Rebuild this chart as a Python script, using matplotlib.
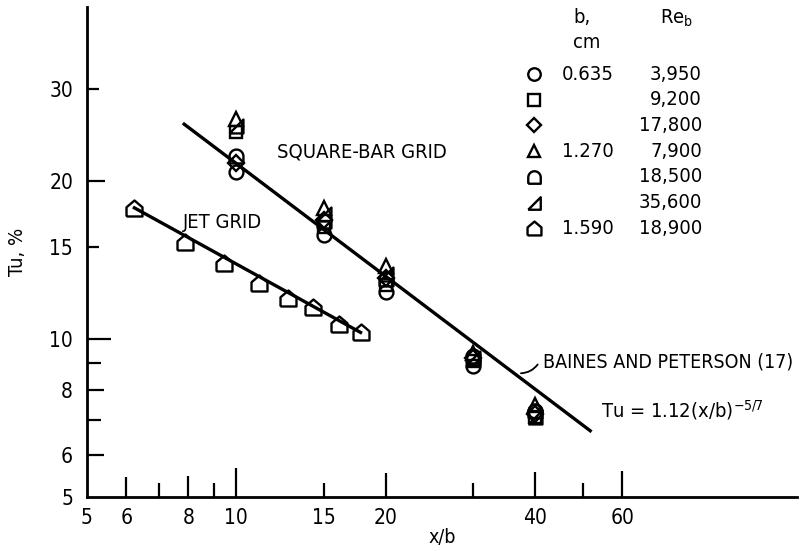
import matplotlib
matplotlib.use("Agg")
import matplotlib.pyplot as plt
import numpy as np
from matplotlib.path import Path

plt.rcParams['font.family'] = ['DejaVu Sans']
plt.rcParams['font.stretch'] = 'condensed'
plt.rcParams['mathtext.default'] = 'regular'

# square-bar grid stations (x/b) and Tu, % for each symbol
xb_bar = [10, 15, 20, 30, 40]
tu_circle = [20.8, 15.8, 12.3, 8.9, 7.3]
tu_square = [24.8, 16.4, 12.7, 9.1, 7.1]
tu_diamond = [21.7, 16.9, 13.1, 9.2, 7.2]
tu_triangle = [26.3, 17.8, 13.8, 9.4, 7.5]
tu_arch = [22.4, 16.8, 13.0, 9.3, 7.3]
tu_halftri = [25.5, 17.3, 13.3, 9.2, 7.1]

# jet grid
xb_jet = [6.23, 7.87, 9.46, 11.1, 12.7, 14.3, 16.1, 17.8]
tu_jet = [17.8, 15.3, 14.0, 12.8, 12.0, 11.5, 10.7, 10.3]

# Baines and Peterson: Tu = 1.12 (x/b)^-5/7
bp_coef = 112.0
bp_exp = -5.0 / 7.0
bp_range = [7.85, 51.7]

# legend table
leg_b = ["0.635", "", "", "1.270", "", "", "1.590"]
leg_re = ["3,950", "9,200", "17,800", "7,900", "18,500", "35,600", "18,900"]

# custom symbols
t = np.linspace(0, np.pi, 20)
arch = Path(np.vstack([[[-1, -1], [1, -1]], np.c_[np.cos(t), np.sin(t)], [[-1, -1]]]))
halftri = Path([(-1, -1), (1, -1), (1, 1), (-1, -1)])
house = Path([(-1, -1), (1, -1), (1, 0.15), (0, 1), (-1, 0.15), (-1, -1)])

markers = ['o', 's', 'D', '^', arch, halftri, house]
sizes = [10, 9, 8, 10, 10, 10, 11]
series = [tu_circle, tu_square, tu_diamond, tu_triangle, tu_arch, tu_halftri]

fig = plt.figure(figsize=(8, 5.51), dpi=100)
ax = fig.add_axes([87 / 800, 1 - 497 / 551, 710 / 800, 490 / 551])
ax.set_xscale('log')
ax.set_yscale('log')
ax.set_xlim(5, 135)
ax.set_ylim(5, 43)

k = 'black'
mk = dict(mfc='none', mec=k, mew=1.7, ls='none')

bx = np.array(bp_range)
ax.plot(bx, bp_coef * bx ** bp_exp, color=k, lw=2.4, zorder=1)
ax.plot([xb_jet[0], xb_jet[-1]], [tu_jet[0], tu_jet[-1]], color=k, lw=2.4, zorder=1)

for vals, m, s in zip(series, markers, sizes):
    ax.plot(xb_bar, vals, marker=m, ms=s, **mk)
ax.plot(xb_jet, tu_jet, marker=house, ms=11.5, **mk)

fs = 14.5
ax.text(12.1, 22.7, "SQUARE-BAR GRID", fontsize=fs, va='center')
ax.text(7.8, 16.7, "JET GRID", fontsize=fs, va='center')
ax.text(41.6, 9.04, "BAINES AND PETERSON (17)", fontsize=14, va='center')
ax.text(54.4, 7.32, r"Tu = 1.12(x/b)$^{-5/7}$", fontsize=fs, va='center')
ax.annotate("", xy=(37.0, 8.61), xytext=(40.8, 9.04),
            arrowprops=dict(arrowstyle='-', color=k, lw=1.3,
                            connectionstyle='arc3,rad=-0.3'))

# legend table
row0 = (497 - 74) / 490
step = 25.7 / 490
ax.text(0.697, 0.978, "b,", transform=ax.transAxes, fontsize=fs, ha='center', va='center')
ax.text(0.704, 0.927, "cm", transform=ax.transAxes, fontsize=fs, ha='center', va='center')
ax.text(0.83, 0.976, "Re$_b$", transform=ax.transAxes, fontsize=fs, ha='center', va='center')
for i, (m, s) in enumerate(zip(markers, sizes)):
    yy = row0 - i * step
    ax.plot([0.630], [yy], marker=m, ms=s - 1, transform=ax.transAxes, clip_on=False, **mk)
    ax.text(0.669, yy, leg_b[i], transform=ax.transAxes, fontsize=fs, va='center')
    ax.text(0.866, yy, leg_re[i], transform=ax.transAxes, fontsize=fs, va='center', ha='right')

# axes styling
for sp in ['top', 'right']:
    ax.spines[sp].set_visible(False)
for sp in ['left', 'bottom']:
    ax.spines[sp].set_linewidth(2)

xmaj = [5, 6, 8, 10, 15, 20, 40, 60]
xlen = [0, 20, 21, 29, 14, 24, 25, 26]
ax.set_xticks(xmaj)
ax.set_xticklabels([str(v) for v in xmaj])
ax.set_xticks([7, 9, 30, 50], minor=True)
ax.xaxis.set_minor_formatter(plt.NullFormatter())
ymaj = [5, 6, 8, 10, 15, 20, 30]
ylen = [0, 17, 17, 24, 12, 18, 12]
ax.set_yticks(ymaj)
ax.set_yticklabels([str(v) for v in ymaj])
ax.set_yticks([7, 9], minor=True)
ax.yaxis.set_minor_formatter(plt.NullFormatter())

ax.tick_params(which='both', direction='in', width=1.6, labelsize=15)
ax.tick_params(axis='x', which='major', pad=8)
ax.tick_params(axis='y', which='major', pad=10)
ax.tick_params(which='minor', length=10)
for tk, L in zip(ax.xaxis.get_major_ticks(), xlen):
    tk.tick1line.set_markersize(L * 0.72)
for tk, L in zip(ax.yaxis.get_major_ticks(), ylen):
    tk.tick1line.set_markersize(L * 0.72)

ax.set_xlabel("x/b", fontsize=14, labelpad=0)
ax.set_ylabel("Tu, %", fontsize=fs, labelpad=16)

fig.savefig("out.png", dpi=100)
